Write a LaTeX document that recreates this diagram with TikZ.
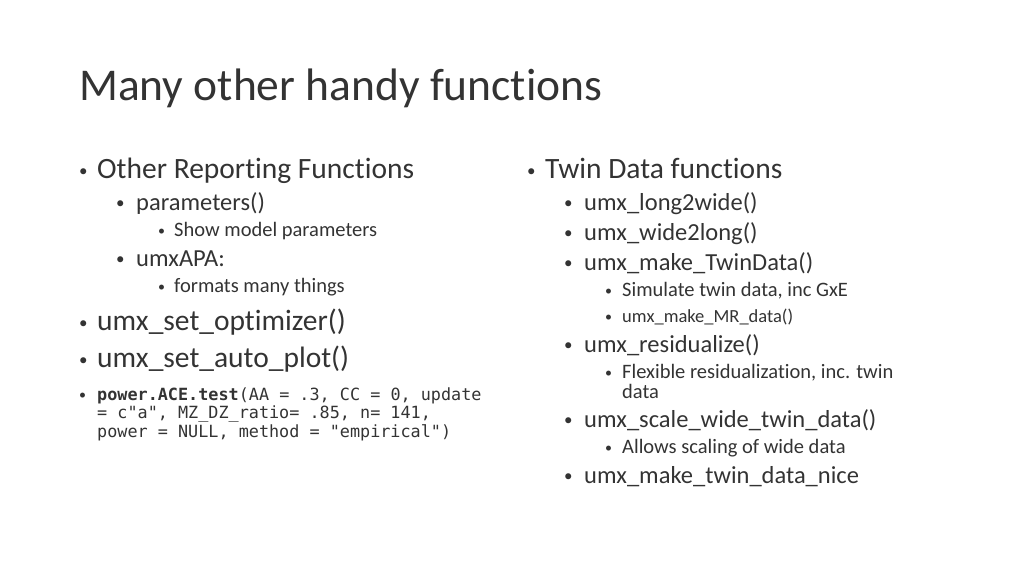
\documentclass[tikz,border=0pt]{standalone}
\usepackage{fontspec}
\setmainfont{Carlito}[Ligatures={NoCommon}]
\setmonofont{DejaVu Sans Mono}
\begin{document}
\begin{tikzpicture}[x=1pt,y=-1pt,
  t/.style={anchor=base west,inner sep=0pt,text=black!80},
  la/.style={t,font=\fontsize{29.5}{34}\selectfont},
  lb/.style={t,font=\fontsize{24.5}{29}\selectfont},
  lc/.style={t,font=\fontsize{20.5}{24}\selectfont},
  lm/.style={t,font=\ttfamily\fontsize{16.8}{19}\selectfont,align=left},
  bu/.style={t,font=\fontsize{17}{20}\selectfont},
  bs/.style={t,font=\fontsize{14}{18}\selectfont}]
\useasboundingbox (0,0) rectangle (1024,576);
\node[t,font=\fontsize{45.5}{52}\selectfont] (title) at (79,100) {Many other handy functions};
% left column
\node[bu] (b1) at (79,176) {•}; \node[la] (a1) at (97,178) {Other Reporting Functions};
\node[bu] (b2) at (116,208) {•}; \node[lb] (a2) at (136,210) {parameters()};
\node[bs] (b3) at (158,235) {•}; \node[lc] (a3) at (174,236) {Show model parameters};
\node[bu] (b4) at (116,264) {•}; \node[lb] (a4) at (136,266) {umxAPA:};
\node[bs] (b5) at (158,291) {•}; \node[lc] (a5) at (174,292) {formats many things};
\node[bu] (b6) at (79,328) {•}; \node[la] (a6) at (97,330) {umx\_set\_optimizer()};
\node[bu] (b7) at (79,365) {•}; \node[la] (a7) at (97,367) {umx\_set\_auto\_plot()};
\node[bs] (b8) at (79,399) {•};
\node[lm] (a8) at (97,400) {\textbf{power.ACE.test}(AA = .3, CC = 0, update};
\node[lm] (a9) at (97,418) {= c"a", MZ\_DZ\_ratio= .85, n= 141,};
\node[lm] (a10) at (97,437) {power = NULL, method = "empirical")};
% right column
\node[bu] (c1) at (527,176) {•}; \node[la] (d1) at (545,178) {Twin Data functions};
\node[bu] (c2) at (564,208) {•}; \node[lb] (d2) at (584,210) {umx\_long2wide()};
\node[bu] (c3) at (564,238) {•}; \node[lb] (d3) at (584,240) {umx\_wide2long()};
\node[bu] (c4) at (564,268) {•}; \node[lb] (d4) at (584,270) {umx\_make\_TwinData()};
\node[bs] (c5) at (605,295) {•}; \node[lc] (d5) at (622,296) {Simulate twin data, inc GxE};
\node[bs] (c6) at (605,321) {•}; \node[lc,font=\fontsize{18.5}{22}\selectfont] (d6) at (622,322) {umx\_make\_MR\_data()};
\node[bu] (c7) at (564,350) {•}; \node[lb] (d7) at (584,352) {umx\_residualize()};
\node[bs] (c8) at (605,377) {•}; \node[lc] (d8) at (622,378) {Flexible residualization, inc. twin};
\node[lc] (d9) at (622,398) {data};
\node[bu] (c10) at (564,425) {•}; \node[lb] (d10) at (584,427) {umx\_scale\_wide\_twin\_data()};
\node[bs] (c11) at (605,452) {•}; \node[lc] (d11) at (622,453) {Allows scaling of wide data};
\node[bu] (c12) at (564,481) {•}; \node[lb] (d12) at (584,483) {umx\_make\_twin\_data\_nice};
\end{tikzpicture}
\end{document}
